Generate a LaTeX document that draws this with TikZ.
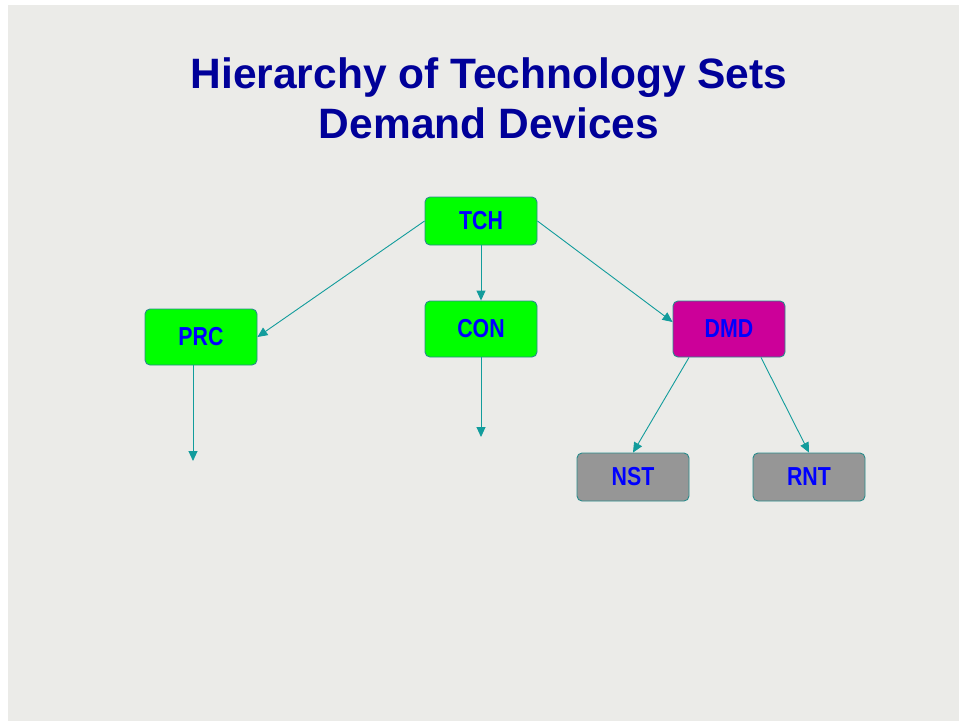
\documentclass[tikz,border=0pt]{standalone}
\usepackage{fontspec}
\setmainfont{Liberation Sans}
\newfontfamily\titlefont{Liberation Sans}
\newfontfamily\boxfont[FakeStretch=0.82]{Liberation Sans}
\usetikzlibrary{arrows.meta,calc}

\definecolor{paper}{HTML}{EBEBE8}
\definecolor{titleblue}{HTML}{000099}
\definecolor{labelblue}{HTML}{0000FF}
\definecolor{linkteal}{HTML}{129C9C}
\definecolor{edgeteal}{HTML}{2A8C8C}
\definecolor{boxgreen}{HTML}{00FF00}
\definecolor{boxmagenta}{HTML}{CC0099}
\definecolor{boxgrey}{HTML}{969696}

\tikzset{
  techbox/.style={draw=edgeteal, line width=0.9pt, rounded corners=5pt,
    minimum width=112pt, inner sep=0pt, text=labelblue,
    font=\boxfont\bfseries\fontsize{26}{30}\selectfont},
  tall/.style={techbox, minimum height=56pt},
  short/.style={techbox, minimum height=48pt},
  link/.style={draw=linkteal, line width=0.9pt,
    -{Triangle[length=10pt,width=9pt]}},
  headline/.style={anchor=base, text=titleblue, inner sep=0pt,
    font=\titlefont\bfseries\fontsize{42.5}{50}\selectfont}
}

\begin{document}
\begin{tikzpicture}[x=1pt, y=-1pt]
  % page and slide background
  \fill[white] (0,0) rectangle (959,721);
  \fill[paper] (8,5) rectangle (959,721);
  \useasboundingbox (0,0) rectangle (959,721);

  % heading
  \node[headline] (title1) at (489,88) {Hierarchy of Technology Sets};
  \node[headline] (title2) at (489,138) {Demand Devices};

  % technology sets
  \node[short, fill=boxgreen]   (tch) at (481,221) {TCH};
  \node[tall,  fill=boxgreen]   (prc) at (201,337) {PRC};
  \node[tall,  fill=boxgreen]   (con) at (481,329) {CON};
  \node[tall,  fill=boxmagenta] (dmd) at (729,329) {DMD};
  \node[short, fill=boxgrey]    (nst) at (633,477) {NST};
  \node[short, fill=boxgrey]    (rnt) at (809,477) {RNT};

  % open ends below PRC and CON
  \coordinate (prcend) at (193,461);
  \coordinate (conend) at (481,437);

  % hierarchy links
  \draw[link] (tch.west) -- (prc.east);
  \draw[link] (tch.south) -- (con.north);
  \draw[link] (tch.east) -- ($(dmd.west)+(0,-7)$);
  \draw[link] ($(prc.south)+(-8,0)$) -- (prcend);
  \draw[link] (con.south) -- (conend);
  \draw[link] ($(dmd.south)+(-40,0)$) -- (nst.north);
  \draw[link] ($(dmd.south)+(32,0)$) -- (rnt.north);
\end{tikzpicture}
\end{document}
